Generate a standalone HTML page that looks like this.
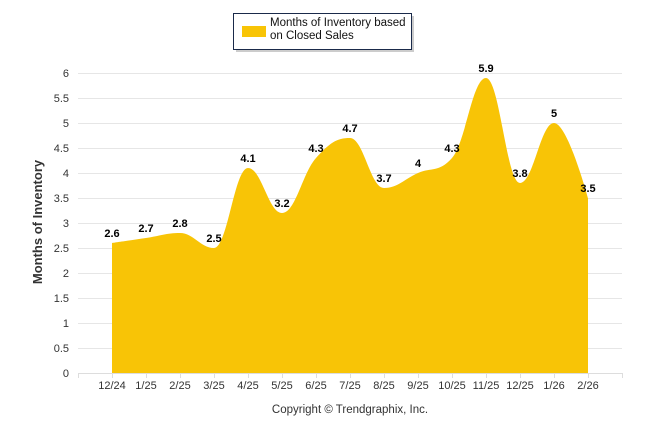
<!DOCTYPE html>
<html><head><meta charset="utf-8"><style>
body{margin:0;background:#fff;font-family:"Liberation Sans",Arial,sans-serif}
svg{display:block}
</style></head><body>
<svg id="c" width="646" height="434" xmlns="http://www.w3.org/2000/svg">
<g id="grid"></g>
<path id="area" fill="#f8c406"/>
<g id="xaxis"></g>
<g id="yaxis"></g>
<g id="labels"></g>
<text transform="translate(42,222) rotate(-90)" text-anchor="middle" font-size="13" font-weight="bold" fill="#333">Months of Inventory</text>
<text x="350" y="413" text-anchor="middle" font-size="11.5" fill="#333">Copyright © Trendgraphix, Inc.</text>
<g>
<rect x="236" y="16" width="178" height="36" fill="#999" opacity="0.5"/>
<rect x="233.5" y="13.5" width="178" height="36" fill="#fff" stroke="#1a2a4a" stroke-width="1"/>
<rect x="242" y="26" width="24" height="11" fill="#f8c406"/>
<text x="270" y="26" font-size="11.5" fill="#111">Months of Inventory based</text>
<text x="270" y="39" font-size="11.5" fill="#111">on Closed Sales</text>
</g>
</svg>
<script>
const categories=["12/24","1/25","2/25","3/25","4/25","5/25","6/25","7/25","8/25","9/25","10/25","11/25","12/25","1/26","2/26"];
const values=[2.6,2.7,2.8,2.5,4.1,3.2,4.3,4.7,3.7,4,4.3,5.9,3.8,5,3.5];
const yTicks=[0,0.5,1,1.5,2,2.5,3,3.5,4,4.5,5,5.5,6];
const NS="http://www.w3.org/2000/svg";
const X0=78,STEP=34,Y0=373,PX=50;
const x=i=>X0+STEP*(i+1);
const y=v=>Y0-v*PX;
function mk(t,a,p){const e=document.createElementNS(NS,t);for(const k in a)e.setAttribute(k,a[k]);p.appendChild(e);return e;}
const grid=document.getElementById('grid'),ya=document.getElementById('yaxis'),xa=document.getElementById('xaxis'),lab=document.getElementById('labels');
yTicks.forEach(t=>{
 const l=mk('line',{x1:X0,x2:X0+STEP*16,y1:y(t)+0.5,y2:y(t)+0.5,stroke:'#e6e6e6'},grid);
 
 
 const tx=mk('text',{x:69,y:y(t)+4,'text-anchor':'end','font-size':'11',fill:'#333'},ya);
 tx.textContent=t;
 
 
});
mk('line',{x1:X0,x2:X0+STEP*16,y1:Y0+0.5,y2:Y0+0.5,stroke:'#ddd'},xa);
for(let k=0;k<=16;k++){mk('line',{x1:X0+STEP*k+0.5,x2:X0+STEP*k+0.5,y1:Y0,y2:Y0+5,stroke:'#ddd'},xa);}
categories.forEach((c,i)=>{
 const t=mk('text',{x:x(i),y:389,'text-anchor':'middle','font-size':'11',fill:'#333'},xa);
 t.textContent=c;
 
 
});
const pts=values.map((v,i)=>[x(i),y(v)]);
let d=`M${pts[0][0]},${Y0} L${pts[0][0]},${pts[0][1]}`;
const sm=1.5,den=2.5;
function ctrl(i){
 const [px,py]=pts[i],l=pts[i-1],n=pts[i+1];
 let lx=(sm*px+l[0])/den,ly=(sm*py+l[1])/den,rx=(sm*px+n[0])/den,ry=(sm*py+n[1])/den;
 let cor=0;
 if(rx!==lx) cor=((ry-ly)*(rx-px))/(rx-lx)+py-ry;
 ly+=cor;ry+=cor;
 if(ly>l[1]&&ly>py){ly=Math.max(l[1],py);ry=2*py-ly;}else if(ly<l[1]&&ly<py){ly=Math.min(l[1],py);ry=2*py-ly;}
 if(ry>n[1]&&ry>py){ry=Math.max(n[1],py);ly=2*py-ry;}else if(ry<n[1]&&ry<py){ry=Math.min(n[1],py);ly=2*py-ry;}
 return {lx,ly,rx,ry};
}
const cs=pts.map((p,i)=>(i>0&&i<pts.length-1)?ctrl(i):null);
for(let i=1;i<pts.length;i++){
 const a=cs[i-1]?[cs[i-1].rx,cs[i-1].ry]:pts[i-1];
 const b=cs[i]?[cs[i].lx,cs[i].ly]:pts[i];
 d+=` C${a[0]},${a[1]} ${b[0]},${b[1]} ${pts[i][0]},${pts[i][1]}`;
}
d+=` L${pts[pts.length-1][0]},${Y0} Z`;
document.getElementById('area').setAttribute('d',d);
values.forEach((v,i)=>{
 const t=mk('text',{x:x(i),y:y(v)-6,'text-anchor':'middle','font-size':'11','font-weight':'bold',fill:'#000'},lab);
 t.textContent=v;
 
 
});
</script>
</body></html>
